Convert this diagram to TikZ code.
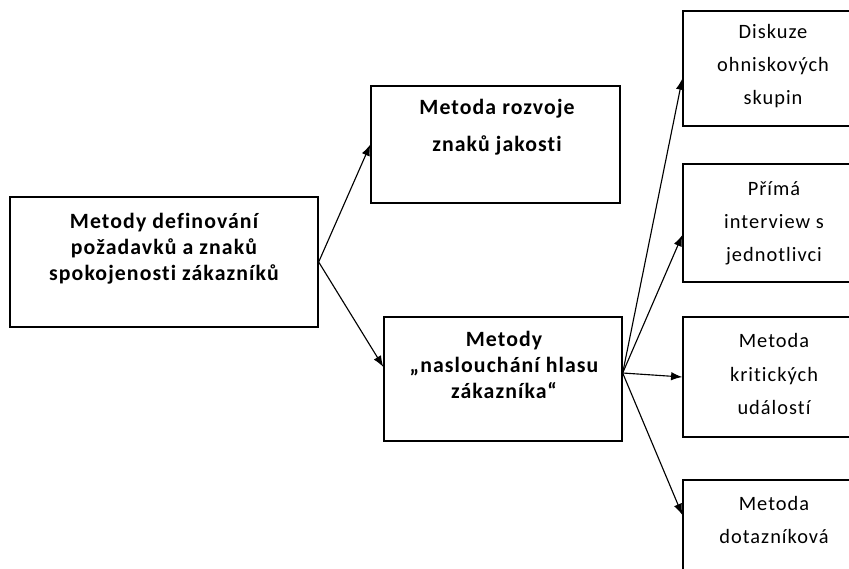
\documentclass[tikz,border=0pt]{standalone}
\usepackage{fontspec}
\setmainfont{Carlito}
\newfontfamily\boxfont{Carlito}[LetterSpace=5, Ligatures=NoCommon]
\usetikzlibrary{arrows.meta,calc}
\tikzset{
  box/.style={draw, line width=0.9pt, inner sep=0pt},
  boldtxt/.style={font=\boxfont\bfseries\fontsize{15.5}{18.5}\selectfont, align=center, inner sep=0pt},
  plaintxt/.style={font=\boxfont\fontsize{14.5}{23.5}\selectfont, align=center, inner sep=0pt},
  arr/.style={-{Latex[length=8pt,width=6pt]}, line width=0.8pt},
}
\begin{document}
\begin{tikzpicture}[x=0.025cm, y=-0.025cm]
      \clip (0,0) rectangle (849,569);
      % main boxes
      \node (b1) [box, minimum width=7.7cm, minimum height=3.25cm] at (164,262) {};
      \node (b2) [box, minimum width=6.225cm, minimum height=2.925cm] at (495.5,144.5) {};
      \node (b3) [box, minimum width=5.95cm, minimum height=3.1cm] at (503,379) {};
      \node (t1) [boldtxt] at (164,249) {Metody definování\\požadavků a znaků\\spokojenosti zákazníků};
      \node (t2) [boldtxt] at (497,127) {Metoda rozvoje\\[8pt]znaků jakosti};
      \node (t3) [boldtxt] at (504,365) {Metody\\„naslouchání hlasu\\zákazníka“};
      % right column
      \node (r1) [box, minimum width=4.675cm, minimum height=2.875cm] at (776.5,68.5) {};
      \node (r2) [box, minimum width=4.675cm, minimum height=2.95cm] at (776.5,223) {};
      \node (r3) [box, minimum width=4.675cm, minimum height=3cm] at (776.5,377) {};
      \node (r4) [box, minimum width=4.675cm, minimum height=3cm] at (776.5,540) {};
      \node (s1) [plaintxt] at (773,66) {Diskuze\\ohniskových\\skupin};
      \node (s2) [plaintxt] at (774,223) {Přímá\\interview s\\jednotlivci};
      \node (s3) [plaintxt] at (774,374) {Metoda\\kritických\\událostí};
      \node (s4) [plaintxt] at (774,520) {Metoda\\dotazníková};
      % arrows
      \coordinate (fork) at ($(b3.east)+(0,-6)$);
      \draw[arr] (b1.east) -- (b2.west);
      \draw[arr] (b1.east) -- ($(b3.west)+(0,-12)$);
      \draw[arr] (fork) -- ($(r1.west)+(0,10)$);
      \draw[arr] (fork) -- ($(r2.west)+(0,12)$);
      \draw[arr] (fork) -- (r3.west);
      \draw[arr] (fork) -- ($(r4.west)+(0,-25)$);
\end{tikzpicture}
\end{document}
